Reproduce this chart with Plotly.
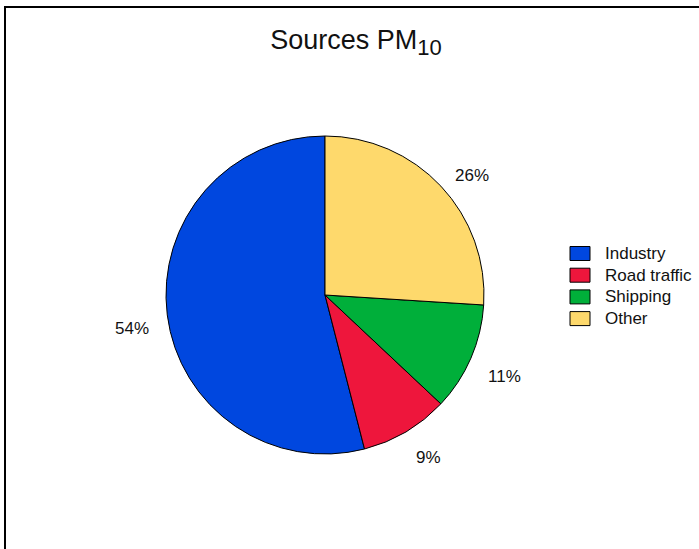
import math
import plotly.graph_objects as go

# PM10 source shares (percent)
sources = ["Industry", "Road traffic", "Shipping", "Other"]
shares = [54, 9, 11, 26]
colors = ["#0047DF", "#EE163C", "#00AF3A", "#FED96C"]

W, H = 699, 549
FONT = "Liberation Sans"

# pie placement in pixels
cx, cy, R = 325, 295, 159
dom_x = [(cx - R) / W, (cx + R) / W]
dom_y = [1 - (cy + R) / H, 1 - (cy - R) / H]

total = sum(shares)
first_deg = 360 * shares[0] / total

# slices run counterclockwise, the first one starting at 12 o'clock
fig = go.Figure(
    go.Pie(
        labels=sources,
        values=shares,
        sort=False,
        direction="counterclockwise",
        rotation=-first_deg,
        marker=dict(colors=colors, line=dict(color="#000000", width=1)),
        textinfo="none",
        hoverinfo="label+percent",
        domain=dict(x=dom_x, y=dom_y),
        showlegend=False,
    )
)

# percentage labels outside each slice: anchored at a point on the slice's
# mid-angle, text extending away from the pie
annotations = []
cum = 0.0
r_lab = 175
for name, v in zip(sources, shares):
    mid = (cum + v / 2) / total
    cum += v
    theta = math.radians(360 * (1 - mid))  # clockwise angle from 12 o'clock
    sx, sy = math.sin(theta), -math.cos(theta)
    px = cx + r_lab * sx
    py = cy + r_lab * sy
    annotations.append(
        dict(
            x=px / W, y=1 - py / H, xref="paper", yref="paper",
            text=f"{round(100 * v / total)}%", showarrow=False,
            xanchor="left" if sx >= 0 else "right",
            yanchor="top" if sy >= 0 else "middle",
            font=dict(family=FONT, size=17, color="#111111"),
        )
    )

# legend: coloured boxes with labels to the right of the pie
shapes = []
leg_x0, leg_box_w, leg_box_h = 570, 20, 14
leg_y0, leg_step = 253.5, 21.7
for i, (name, col) in enumerate(zip(sources, colors)):
    yc = leg_y0 + i * leg_step
    shapes.append(
        dict(
            type="rect", xref="paper", yref="paper",
            x0=leg_x0 / W, x1=(leg_x0 + leg_box_w) / W,
            y0=1 - (yc + leg_box_h / 2) / H, y1=1 - (yc - leg_box_h / 2) / H,
            line=dict(color="#000000", width=1), fillcolor=col,
        )
    )
    annotations.append(
        dict(
            x=603 / W, y=1 - yc / H, xref="paper", yref="paper",
            text=name, showarrow=False, xanchor="left", yanchor="middle",
            font=dict(family=FONT, size=17, color="#111111"),
        )
    )

# outer frame
shapes.append(
    dict(
        type="rect", xref="paper", yref="paper",
        x0=5 / W, x1=1.05, y0=-0.05, y1=1 - 7 / H,
        line=dict(color="#000000", width=2), fillcolor="rgba(0,0,0,0)",
    )
)

fig.update_layout(
    width=W, height=H, autosize=False,
    margin=dict(l=0, r=0, t=0, b=0),
    paper_bgcolor="white", plot_bgcolor="white",
    font=dict(family=FONT, color="#111111"),
    title=dict(
        text='Sources PM<sub><span style="font-size:22px">10</span></sub>',
        x=356 / W, xanchor="center", y=1 - 40 / H, yanchor="middle",
        font=dict(family=FONT, size=27, color="#111111"),
    ),
    showlegend=False,
    annotations=annotations,
    shapes=shapes,
)

fig.write_html("out.html")
